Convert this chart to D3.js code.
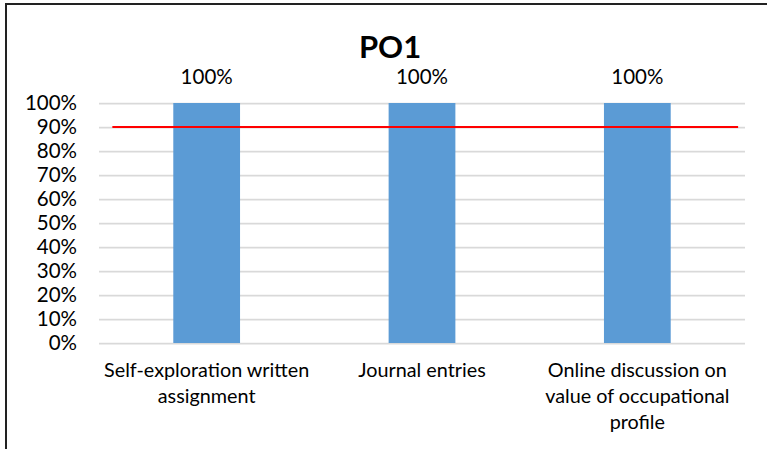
<!DOCTYPE html>
<html>
<head>
<meta charset="utf-8">
<script src="https://cdn.jsdelivr.net/npm/d3@7"></script>
<style>
  body { margin: 0; background: #fff; }
  text { font-family: Lato, "Open Sans", sans-serif; fill: #000; }
</style>
</head>
<body>
<svg id="chart" width="767" height="449"></svg>
<script>
// data
var categories = ["Self-exploration written assignment", "Journal entries", "Online discussion on value of occupational profile"];
var catLines = [["Self-exploration written", "assignment"], ["Journal entries"], ["Online discussion on", "value of occupational", "profile"]];
var values = [1, 1, 1];
var target = 0.9;
var yTicks = [0, 0.1, 0.2, 0.3, 0.4, 0.5, 0.6, 0.7, 0.8, 0.9, 1];

var svg = d3.select("#chart");
var margin = {top: 103, left: 99, right: 22, bottom: 106};
var width = 767, height = 449;

// frame (chart area border, clipped at right/bottom)
svg.append("rect")
  .attr("x", 6).attr("y", 4)
  .attr("width", 800).attr("height", 500)
  .attr("fill", "none")
  .attr("stroke", "#222")
  .attr("stroke-width", 2);

var x = d3.scaleBand()
  .domain(categories)
  .range([margin.left, width - margin.right])
  .paddingInner(0.69)
  .paddingOuter(0.345);

var y = d3.scaleLinear()
  .domain([0, 1])
  .range([height - margin.bottom, margin.top]);

// gridlines
svg.append("g")
  .selectAll("line")
  .data(yTicks)
  .enter().append("line")
  .attr("x1", x.range()[0])
  .attr("x2", x.range()[1])
  .attr("y1", function(d) { return Math.round(y(d)) + 0.5; })
  .attr("y2", function(d) { return Math.round(y(d)) + 0.5; })
  .attr("stroke", "#d9d9d9")
  .attr("stroke-width", 1.75);

// y tick labels
svg.append("g")
  .selectAll("text")
  .data(yTicks)
  .enter().append("text")
  .attr("x", 77)
  .attr("y", function(d) { return y(d); })
  .attr("dy", "0.35em")
  .attr("text-anchor", "end")
  .style("font-size", "20.5px")
  .text(d3.format(".0%"));

// bars
svg.append("g")
  .selectAll("rect")
  .data(values)
  .enter().append("rect")
  .attr("x", function(d, i) { return x(categories[i]); })
  .attr("y", function(d) { return y(d); })
  .attr("width", x.bandwidth())
  .attr("height", function(d) { return y(0) - y(d); })
  .attr("fill", "#5b9bd5");

// data labels
svg.append("g")
  .selectAll("text")
  .data(values)
  .enter().append("text")
  .attr("x", function(d, i) { return x(categories[i]) + x.bandwidth() / 2; })
  .attr("y", function(d) { return y(d) - 19; })
  .attr("text-anchor", "middle")
  .style("font-size", "20.5px")
  .text(d3.format(".0%"));

// target line
svg.append("line")
  .attr("x1", x.range()[0] + x.step() * 0.062)
  .attr("x2", x.range()[1] - x.step() * 0.032)
  .attr("y1", y(target))
  .attr("y2", y(target))
  .attr("stroke", "#ff0000")
  .attr("stroke-width", 2);

// category labels
var cl = svg.append("g")
  .selectAll("text")
  .data(catLines)
  .enter().append("text")
  .attr("x", function(d, i) { return x(categories[i]) + x.bandwidth() / 2; })
  .attr("y", 377)
  .attr("text-anchor", "middle")
  .style("font-size", "19.8px");
cl.selectAll("tspan")
  .data(function(d) { return d; })
  .enter().append("tspan")
  .attr("x", function() { return d3.select(this.parentNode).attr("x"); })
  .attr("dy", function(d, i) { return i == 0 ? 0 : 26; })
  .text(function(d) { return d; });

// title
svg.append("text")
  .attr("x", 390)
  .attr("y", 58)
  .attr("text-anchor", "middle")
  .style("font-size", "31px")
  .style("font-weight", "bold")
  .text("PO1");
</script>
</body>
</html>
